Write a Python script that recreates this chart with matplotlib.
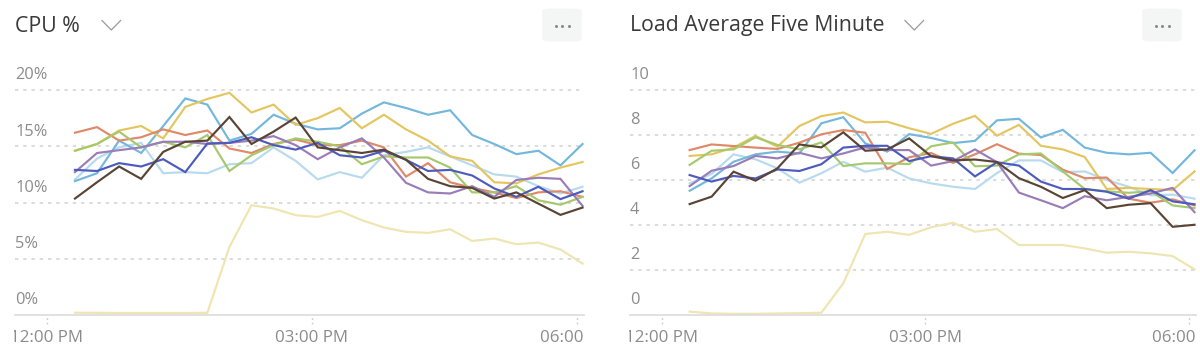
import matplotlib
matplotlib.use("Agg")
import matplotlib.pyplot as plt
import matplotlib.dates as mdates
from matplotlib.patches import FancyBboxPatch
from matplotlib.lines import Line2D
from matplotlib.transforms import Bbox, TransformedBbox, blended_transform_factory
import pandas as pd

plt.rcParams['font.family'] = ['Open Sans', 'DejaVu Sans']

times = ["12:19", "12:34", "12:49", "13:04", "13:19", "13:34", "13:49", "14:04",
         "14:19", "14:34", "14:49", "15:04", "15:19", "15:34", "15:49", "16:04",
         "16:19", "16:34", "16:49", "17:04", "17:19", "17:34", "17:49", "18:04"]

series_names = ["sky", "gold", "salmon", "green", "purple", "indigo", "brown", "paleblue", "paleyellow"]
series_colors = ["#74b7dc", "#e3c660", "#de8969", "#a6c96c", "#9a7db8", "#4d5bbd", "#5a4434", "#b8daee", "#eee5b0"]

cpu_sky = [11.9, 12.6, 15.5, 14.4, 16.8, 19.25, 18.7, 15.5, 16.1, 17.8, 17.0, 16.5,
           16.6, 17.9, 18.9, 18.4, 17.8, 18.2, 16.0, 15.2, 14.3, 14.6, 13.3, 15.2]
cpu_gold = [14.6, 15.2, 16.4, 16.8, 15.7, 18.5, 19.2, 19.75, 18.0, 18.7, 16.9, 17.5,
            18.4, 16.6, 17.8, 16.5, 15.5, 14.1, 13.7, 11.8, 11.7, 12.5, 13.1, 13.6]
cpu_salmon = [16.2, 16.7, 15.5, 15.8, 16.5, 16.0, 16.4, 14.8, 14.4, 15.2, 15.6, 15.1,
              15.1, 15.5, 14.9, 12.3, 13.5, 11.8, 11.3, 10.9, 10.4, 10.9, 11.0, 10.5]
cpu_green = [14.6, 15.2, 16.3, 14.9, 15.4, 14.9, 16.0, 12.8, 14.2, 15.1, 15.7, 15.4,
             15.0, 13.4, 14.1, 14.0, 14.0, 13.1, 10.9, 10.9, 11.45, 10.2, 9.8, 10.5]
cpu_purple = [12.7, 14.4, 14.65, 14.9, 15.4, 15.4, 15.2, 15.3, 15.5, 15.9, 15.1, 13.85,
              14.9, 15.7, 14.0, 11.75, 10.9, 10.8, 11.45, 10.5, 12.0, 12.2, 12.1, 9.7]
cpu_indigo = [12.9, 12.8, 13.5, 13.2, 13.85, 12.7, 15.25, 15.3, 15.8, 15.1, 14.7, 15.3,
              14.2, 14.0, 14.6, 13.8, 12.8, 12.9, 12.4, 11.25, 10.5, 11.4, 10.3, 11.0]
cpu_brown = [10.35, 11.8, 13.2, 12.1, 14.5, 15.4, 15.5, 17.6, 15.2, 16.3, 17.55, 14.9,
             14.65, 14.4, 14.7, 13.8, 12.1, 11.45, 11.3, 10.35, 10.9, 9.9, 8.9, 9.55]
cpu_paleblue = [12.05, 13.9, 14.9, 15.3, 12.6, 12.7, 12.6, 13.4, 13.5, 14.9, 13.7, 12.05,
                12.7, 12.2, 14.2, 14.5, 14.9, 14.1, 13.3, 12.5, 12.3, 11.45, 10.8, 11.4]
cpu_paleyellow = [0.2, 0.2, 0.18, 0.18, 0.18, 0.18, 0.2, 6.05, 9.76, 9.47, 8.87, 8.72,
                  9.25, 8.43, 7.78, 7.39, 7.3, 7.62, 6.58, 6.8, 6.29, 6.44, 5.82, 4.57]

load_sky = [5.52, 6.07, 6.81, 7.14, 7.26, 7.18, 8.52, 8.79, 7.63, 7.26, 8.04, 7.87,
            7.64, 7.74, 8.65, 8.72, 7.89, 8.23, 7.44, 7.21, 7.14, 7.21, 6.31, 7.32]
load_gold = [7.07, 7.14, 7.44, 7.96, 7.48, 8.4, 8.84, 9.0, 8.56, 8.59, 8.3, 8.05,
             8.5, 8.85, 7.97, 8.45, 7.52, 7.36, 7.02, 5.6, 5.65, 5.6, 5.55, 6.38]
load_salmon = [7.33, 7.58, 7.51, 7.44, 7.38, 7.66, 8.03, 8.22, 8.1, 6.49, 7.01, 7.2,
               6.76, 7.14, 7.59, 7.17, 7.11, 6.46, 6.08, 6.11, 5.17, 4.99, 5.14, 4.87]
load_green = [6.67, 7.3, 7.36, 7.9, 7.56, 7.36, 7.67, 6.62, 6.74, 6.74, 6.71, 7.5,
              7.67, 6.61, 6.64, 7.14, 7.18, 6.38, 5.6, 5.5, 5.43, 5.5, 4.87, 4.75]
load_purple = [5.73, 6.41, 6.62, 7.07, 6.96, 7.21, 6.96, 7.18, 7.45, 7.33, 7.33, 6.64,
               6.84, 7.36, 6.79, 5.44, 5.1, 4.75, 5.28, 5.1, 5.25, 5.4, 5.65, 4.57]
load_indigo = [6.22, 5.93, 6.18, 6.07, 6.47, 6.4, 6.7, 7.44, 7.52, 7.52, 6.84, 7.06,
               6.96, 6.16, 6.79, 6.64, 5.93, 5.6, 5.6, 5.48, 5.17, 5.55, 5.05, 4.92]
load_brown = [4.93, 5.26, 6.37, 5.97, 6.52, 7.58, 7.45, 8.12, 7.3, 7.36, 7.85, 7.06,
              6.87, 6.91, 6.8, 6.08, 5.7, 5.2, 5.55, 4.75, 4.9, 4.97, 3.92, 4.01]
load_paleblue = [5.85, 6.27, 7.14, 6.92, 6.52, 5.88, 6.3, 6.81, 6.37, 6.55, 6.07, 5.85,
                 5.7, 5.6, 6.31, 6.87, 6.87, 6.35, 6.38, 6.0, 5.7, 5.32, 5.35, 5.17]
load_paleyellow = [0.15, 0.07, 0.05, 0.05, 0.07, 0.08, 0.1, 1.41, 3.6, 3.7, 3.56, 3.9,
                   4.1, 3.7, 3.82, 3.11, 3.11, 3.11, 2.96, 2.77, 2.81, 2.74, 2.62, 2.03]

cpu_ticks = [0, 5, 10, 15, 20]
cpu_tick_labels = ["0%", "5%", "10%", "15%", "20%"]
load_ticks = [0, 2, 4, 6, 8, 10]
load_tick_labels = ["0", "2", "4", "6", "8", "10"]
x_tick_times = ["12:00", "15:00", "18:00"]

titles = ["CPU %", "Load Average Five Minute"]

W, H = 1200, 364
fig = plt.figure(figsize=(W / 100, H / 100), dpi=100)

def fx(px):
    return px / W

def fy(py):
    return 1 - py / H

day = "2024-01-01 "
t = pd.to_datetime([day + s for s in times])
xt = pd.to_datetime([day + s for s in x_tick_times])
xmin = pd.Timestamp(day + "11:38:15")
xmax = pd.Timestamp(day + "18:05:00")

GRID = "#d2d2d2"
LABEL = "#8c8c8c"

def make_panel(left_px, right_px, ymax, yticks, ylabels, data, title, chev_x):
    bottom_px = 315
    top_px = 67.5
    height_px = bottom_px - top_px
    ax = fig.add_axes([fx(left_px), fy(bottom_px), fx(right_px - left_px), height_px / H])
    ax.set_xlim(xmin, xmax)
    ax.set_ylim(0, ymax)
    for s in ax.spines.values():
        s.set_visible(False)
    ax.spines['bottom'].set_visible(True)
    ax.spines['bottom'].set_color("#dedede")
    ax.spines['bottom'].set_linewidth(1.3)
    ax.set_yticks([])
    for v, lab in zip(yticks, ylabels):
        if v > 0:
            ax.axhline(v, color=GRID, lw=1.1, ls=(0, (2.2, 3.2)), zorder=0)
        ax.annotate(lab, xy=(0, v), xycoords=('axes fraction', 'data'),
                    xytext=(0, 10.6), textcoords='offset points',
                    ha='left', va='center', fontsize=11.8, color=LABEL)
    order = [8, 7, 0, 1, 2, 3, 4, 5, 6]
    for i in order:
        ax.plot(t, data[i], color=series_colors[i], lw=1.55, solid_joinstyle='miter',
                zorder=2, clip_on=False)
    ax.set_xticks(xt)
    ax.xaxis.set_major_formatter(mdates.DateFormatter("%I:%M %p"))
    ax.tick_params(axis='x', length=0, pad=10.5, labelsize=12.2, labelcolor=LABEL)
    # dotted tick marks below the axis line
    btrans = blended_transform_factory(ax.transData, ax.transAxes)
    ax.vlines(xt, -9.0 / height_px, -1.0 / height_px, transform=btrans, clip_on=False,
              colors="#cdcdcd", lw=1.0, linestyles=(0, (1.3, 2.0)))
    clip = TransformedBbox(Bbox([[fx(left_px - 1), 0], [fx(right_px), 1]]), fig.transFigure)
    for lbl in ax.get_xticklabels():
        lbl.set_clip_on(True)
        lbl.set_clip_box(clip)
    # title
    fig.text(fx(left_px), fy(26), title, fontsize=15.3, color="#3a3a3a", ha='left', va='center')
    # chevron
    fig.add_artist(Line2D([fx(chev_x), fx(chev_x + 9.3), fx(chev_x + 18.6)],
                          [fy(20.5), fy(30), fy(20.5)], color="#9a9a9a", lw=0.9))
    return ax

ax1 = make_panel(15, 584, 22, cpu_ticks, cpu_tick_labels,
                 [cpu_sky, cpu_gold, cpu_salmon, cpu_green, cpu_purple, cpu_indigo,
                  cpu_brown, cpu_paleblue, cpu_paleyellow], titles[0], 102)
ax2 = make_panel(630, 1196, 11, load_ticks, load_tick_labels,
                 [load_sky, load_gold, load_salmon, load_green, load_purple, load_indigo,
                  load_brown, load_paleblue, load_paleyellow], titles[1], 905)

# menu buttons
for bx in (544, 1144):
    fig.add_artist(FancyBboxPatch((fx(bx + 3), fy(43 - 3)), fx(36 - 6), (36 - 6) / H,
                                  boxstyle="round,pad=0.004,rounding_size=0.006",
                                  transform=fig.transFigure, facecolor="#f4f6f6",
                                  edgecolor="none"))
    for dx in (12, 18, 24.5):
        fig.add_artist(Line2D([fx(bx + dx)], [fy(26)], marker='o', markersize=2.2,
                              color="#8a8a8a", markeredgewidth=0))

fig.savefig("out.png", dpi=100, facecolor="white")
